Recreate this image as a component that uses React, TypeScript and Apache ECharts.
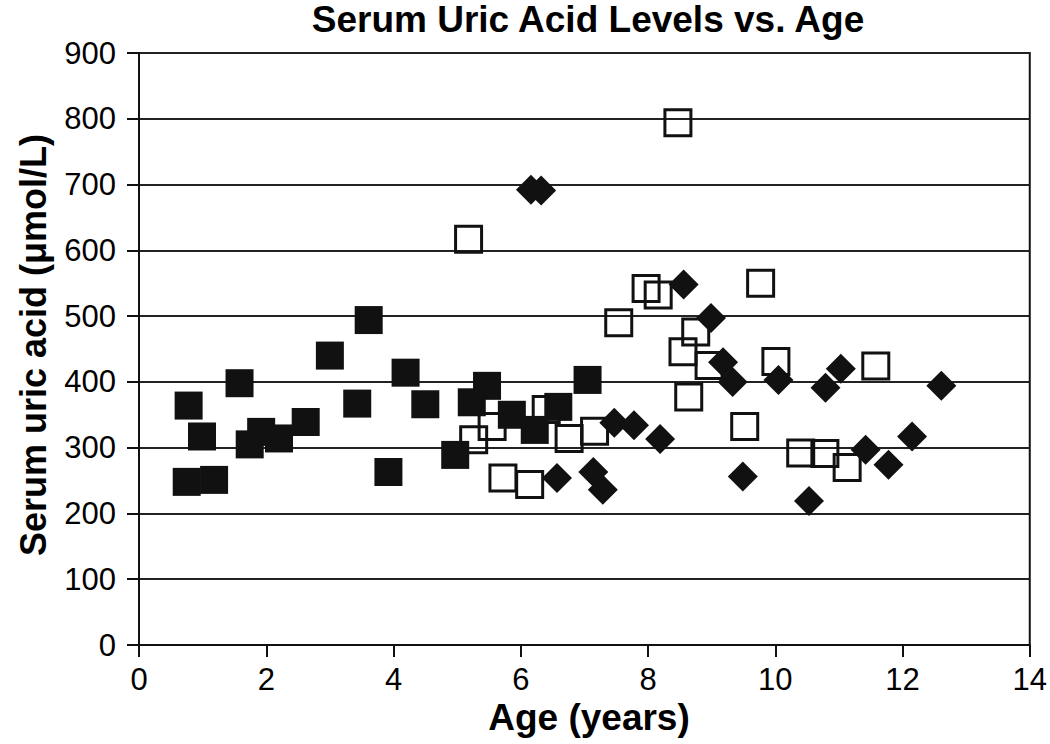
import React, { useEffect, useRef } from "react";
import * as echarts from "echarts";

const xTicks = [0, 2, 4, 6, 8, 10, 12, 14];
const yTicks = [0, 100, 200, 300, 400, 500, 600, 700, 800, 900];

const filledSquareAge = [0.78, 0.99, 0.75, 1.18, 1.58, 1.74, 1.92, 2.2, 2.62, 3.0, 3.61, 3.43, 3.92, 4.19, 4.5, 4.97, 5.23, 5.47, 5.86, 6.22, 6.59, 7.05];
const filledSquareUric = [364, 317, 248, 251, 398, 305, 324, 314, 339, 440, 494, 367, 263, 414, 366, 289, 369, 394, 350, 327, 362, 403];

const openSquareAge = [5.18, 8.47, 9.77, 7.97, 8.16, 7.54, 8.75, 8.55, 8.96, 10.01, 11.58, 8.64, 9.52, 5.26, 5.55, 6.4, 6.76, 7.16, 5.72, 6.14, 10.4, 10.78, 11.13];
const openSquareUric = [617, 794, 550, 542, 532, 490, 476, 446, 425, 431, 424, 377, 332, 312, 332, 358, 314, 325, 254, 244, 292, 291, 270];

const diamondAge = [6.16, 6.32, 8.56, 8.99, 9.18, 9.33, 10.05, 10.79, 11.03, 12.61, 7.47, 7.78, 8.19, 6.57, 7.14, 7.29, 9.49, 10.53, 11.42, 11.78, 12.15];
const diamondUric = [692, 691, 548, 497, 430, 400, 403, 391, 420, 394, 338, 334, 313, 254, 263, 236, 256, 219, 297, 274, 317];

const titleText = "Serum Uric Acid Levels vs. Age";
const xName = "Age (years)";
const yName = "Serum uric acid (\u03bcmol/L)";

const zip = (a: number[], b: number[]) => a.map((v, i) => [v, b[i]]);

const FONT = "'Liberation Sans', Arial, Helvetica, sans-serif";

export default function App() {
  const ref = useRef<HTMLDivElement>(null);
  useEffect(() => {
    document.body.style.margin = "0";
    const chart = echarts.init(ref.current!, null, { renderer: "svg" });
    chart.setOption({
      animation: false,
      backgroundColor: "#ffffff",
      grid: { left: 139, right: 18, top: 53, bottom: 99, show: true, borderColor: "#111", borderWidth: 2, backgroundColor: "transparent" },
      xAxis: {
        type: "value",
        min: xTicks[0],
        max: xTicks[xTicks.length - 1],
        interval: 2,
        axisLine: { show: true, onZero: false, lineStyle: { color: "#111", width: 2 } },
        axisTick: { show: true, inside: false, length: 12, lineStyle: { color: "#111", width: 2 } },
        splitLine: { show: false },
        axisLabel: { color: "#000", fontSize: 31, fontFamily: FONT, margin: 19 },
      },
      yAxis: {
        type: "value",
        min: yTicks[0],
        max: yTicks[yTicks.length - 1],
        interval: 100,
        axisLine: { show: true, lineStyle: { color: "#111", width: 2 } },
        axisTick: { show: true, inside: false, length: 12, lineStyle: { color: "#111", width: 2 } },
        splitLine: { show: true, lineStyle: { color: "#222", width: 2 } },
        axisLabel: { color: "#000", fontSize: 31, fontFamily: FONT, margin: 23 },
      },
      graphic: [
        { type: "text", x: 588, y: 19, style: { text: titleText, font: `bold 37px ${FONT}`, fill: "#000", textAlign: "center", textVerticalAlign: "middle" } },
        { type: "text", x: 589, y: 717, style: { text: xName, font: `bold 37px ${FONT}`, fill: "#000", textAlign: "center", textVerticalAlign: "middle" } },
        { type: "text", x: 33, y: 345, rotation: Math.PI / 2, style: { text: yName, font: `bold 36px ${FONT}`, fill: "#000", textAlign: "center", textVerticalAlign: "middle" } },
      ],
      series: [
        {
          type: "scatter",
          data: zip(openSquareAge, openSquareUric),
          symbol: "rect",
          symbolSize: 26,
          itemStyle: { color: "none", borderColor: "#111", borderWidth: 3, opacity: 1 },
          z: 2,
        },
        {
          type: "scatter",
          data: zip(filledSquareAge, filledSquareUric),
          symbol: "rect",
          symbolSize: 28,
          itemStyle: { color: "#111", borderColor: "#111", borderWidth: 0, opacity: 1 },
          z: 3,
        },
        {
          type: "scatter",
          data: zip(diamondAge, diamondUric),
          symbol: "diamond",
          symbolSize: 30,
          itemStyle: { color: "#111", opacity: 1 },
          z: 4,
        },
      ],
    });
    return () => chart.dispose();
  }, []);
  return <div ref={ref} style={{ position: "absolute", left: 0, top: 0, width: 1050, height: 744 }} />;
}
